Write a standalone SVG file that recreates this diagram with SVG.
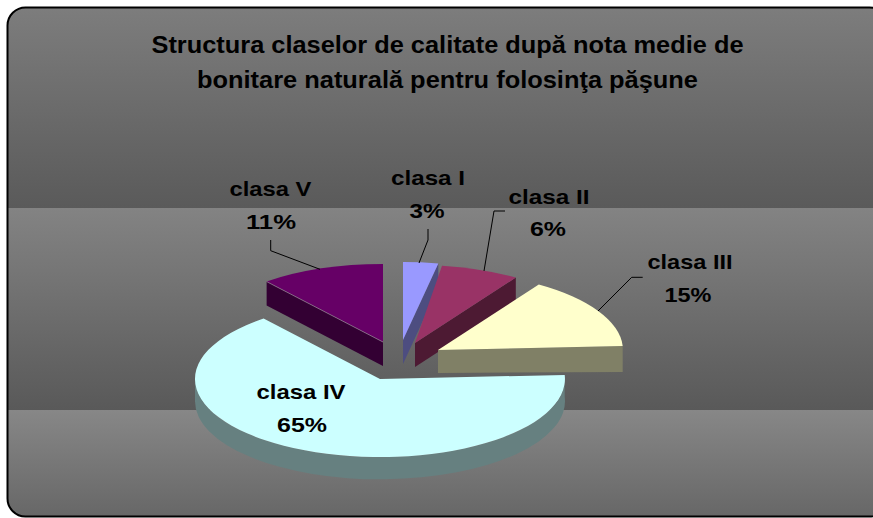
<svg xmlns="http://www.w3.org/2000/svg" width="873" height="518" viewBox="0 0 873 518">
<defs>
<linearGradient id="g1" x1="0" y1="0" x2="0" y2="1"><stop offset="0" stop-color="#7e7e7e"/><stop offset="1" stop-color="#5a5a5a"/></linearGradient>
<linearGradient id="g2" x1="0" y1="0" x2="0" y2="1"><stop offset="0" stop-color="#838383"/><stop offset="1" stop-color="#595959"/></linearGradient>
<linearGradient id="g3" x1="0" y1="0" x2="0" y2="1"><stop offset="0" stop-color="#878787"/><stop offset="1" stop-color="#666666"/></linearGradient>
<clipPath id="frame"><rect x="7.5" y="7.5" width="880" height="509" rx="18"/></clipPath>
</defs>
<style>
.lbl{font-family:"Liberation Sans",Arial,sans-serif;font-weight:bold;font-size:21px;fill:#000;text-anchor:middle}
.ttl{font-family:"Liberation Sans",Arial,sans-serif;font-weight:bold;font-size:23px;fill:#000;text-anchor:middle}
.lead{fill:none;stroke:#000;stroke-width:1}
</style>
<g id="background">
<g clip-path="url(#frame)">
<rect x="0" y="0" width="890" height="208" fill="url(#g1)"/>
<rect x="0" y="208" width="890" height="202" fill="url(#g2)"/>
<rect x="0" y="410" width="890" height="110" fill="url(#g3)"/>
</g>
<rect x="7.5" y="7.5" width="880" height="509" rx="18" fill="none" stroke="#000" stroke-width="2"/>
</g>
<g id="title">
<text class="ttl" x="447.5" y="53" textLength="592" lengthAdjust="spacingAndGlyphs">Structura claselor de calitate după nota medie de</text>
<text class="ttl" x="447.5" y="88" textLength="501" lengthAdjust="spacingAndGlyphs">bonitare naturală pentru folosinţa păşune</text>
</g>
<g id="clasa-V">
<path d="M383,342 L266.6,281.4 L266.6,305.4 L383,366 Z" fill="#330033"/>
<path d="M383,342 L266.6,281.4 A185,78 0 0,1 383,264 Z" fill="#660066"/>
<line x1="266.6" y1="281.6" x2="383" y2="342" stroke="#9a8a9a" stroke-width="0.7"/>
<text class="lbl" x="270.5" y="196" textLength="82" lengthAdjust="spacingAndGlyphs">clasa V</text>
<text class="lbl" x="271" y="229" textLength="50" lengthAdjust="spacingAndGlyphs">11%</text>
</g>
<g id="clasa-I">
<path d="M403,340 L438.3,263.4 L438.3,287.4 L403,364 Z" fill="#4d4d80"/>
<path d="M403,340 L403,262 A185,78 0 0,1 438.3,263.4 Z" fill="#9999ff"/>
<text class="lbl" x="428" y="185" textLength="74" lengthAdjust="spacingAndGlyphs">clasa I</text>
<text class="lbl" x="427" y="218" textLength="35" lengthAdjust="spacingAndGlyphs">3%</text>
</g>
<g id="clasa-II">
<path d="M415,343 L515.8,277.6 L515.8,301.6 L415,367 Z" fill="#4d1a33"/>
<path d="M415,343 L442,265.8 A185,78 0 0,1 515.8,277.6 Z" fill="#993366"/>
<text class="lbl" x="549" y="204" textLength="81" lengthAdjust="spacingAndGlyphs">clasa II</text>
<text class="lbl" x="548" y="236" textLength="36" lengthAdjust="spacingAndGlyphs">6%</text>
</g>
<g id="clasa-III">
<path d="M438,350 L622.7,345.9 L622.7,372 L438,373 Z" fill="#808066"/>
<path d="M438,350 L538.8,284.6 A185,78 0 0,1 622.7,345.9 Z" fill="#ffffcc"/>
<text class="lbl" x="690" y="269" textLength="85" lengthAdjust="spacingAndGlyphs">clasa III</text>
<text class="lbl" x="688" y="302" textLength="47" lengthAdjust="spacingAndGlyphs">15%</text>
</g>
<g id="clasa-IV">
<path d="M564.7,374.9 A185,78 0 1,1 195,379 L195,401 A185,78 0 1,0 564.7,396.9 Z" fill="#668080"/>
<path d="M380,379 L564.7,374.9 A185,78 0 1,1 263.6,318.4 Z" fill="#ccffff"/>
<text class="lbl" x="301" y="399" textLength="89" lengthAdjust="spacingAndGlyphs">clasa IV</text>
<text class="lbl" x="302" y="432" textLength="50" lengthAdjust="spacingAndGlyphs">65%</text>
</g>
<g id="connectors">
<path class="lead" d="M270.7,240 L270.7,250.7 L320,269.3"/>
<path class="lead" d="M428,229 L428,240 L419,263"/>
<path class="lead" d="M505,211 L494,211 L484,271"/>
<path class="lead" d="M642.7,277.3 L631.7,277.3 L598,311"/>
</g>
</svg>
